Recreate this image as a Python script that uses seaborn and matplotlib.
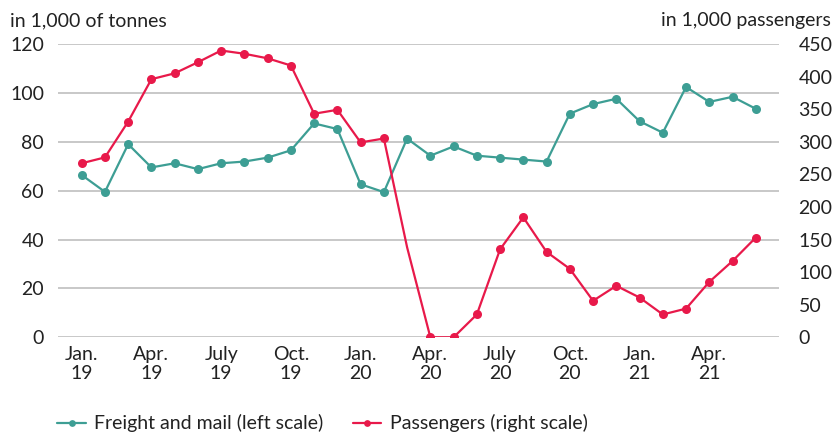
import numpy as np
import pandas as pd
import matplotlib
matplotlib.use("Agg")
import matplotlib.pyplot as plt
import seaborn as sns

months = ["Jan. 19", "Feb. 19", "Mar. 19", "Apr. 19", "May 19", "June 19",
          "July 19", "Aug. 19", "Sep. 19", "Oct. 19", "Nov. 19", "Dec. 19",
          "Jan. 20", "Feb. 20", "Mar. 20", "Apr. 20", "May 20", "June 20",
          "July 20", "Aug. 20", "Sep. 20", "Oct. 20", "Nov. 20", "Dec. 20",
          "Jan. 21", "Feb. 21", "Mar. 21", "Apr. 21", "May 21", "June 21"]

freight = [66.4, 59.5, 79.0, 69.5, 71.2, 68.8, 71.2, 71.9, 73.5, 76.5, 87.5, 85.2,
           62.6, 59.4, 81.3, 74.3, 78.1, 74.3, 73.5, 72.7, 71.9, 91.5, 95.4, 97.6,
           88.4, 83.7, 102.4, 96.3, 98.4, 93.5]

passengers = [267, 276, 331, 396, 405, 422, 440, 435, 428, 417, 343, 349,
              299, 305, 138, 0, 0, 35, 135, 184, 131, 105, 56, 79,
              61, 35, 44, 85, 117, 153]

tick_labels = ["Jan.\n19", "Apr.\n19", "July\n19", "Oct.\n19", "Jan.\n20", "Apr.\n20",
               "July\n20", "Oct.\n20", "Jan.\n21", "Apr.\n21"]

freight_label = "Freight and mail (left scale)"
passenger_label = "Passengers (right scale)"

teal = "#3d9e94"
red = "#e8194a"
grid_grey = "#c4c4c4"
text_color = "#222222"
fs = 14

df = pd.DataFrame({"idx": np.arange(len(months)), "month": months,
                   "freight": freight, "passengers": passengers})

sns.set_theme(style="white")
plt.rcParams["font.family"] = ["Lato", "DejaVu Sans"]
plt.rcParams["text.color"] = text_color

fig = plt.figure(figsize=(8.33, 4.36), dpi=100)
ax = fig.add_axes([0.0696, 0.2264, 0.8656, 0.6727])
ax2 = ax.twinx()

sns.lineplot(data=df, x="idx", y="freight", ax=ax, color=teal, linewidth=1.6,
             marker="o", markersize=6.5, markeredgewidth=0, label=freight_label,
             legend=False, zorder=3)

# no marker is drawn for the March 2020 passenger value
pax_marks = [i for i in range(len(months)) if months[i] != "Mar. 20"]
sns.lineplot(data=df, x="idx", y="passengers", ax=ax2, color=red, linewidth=1.6,
             marker="o", markersize=6.5, markeredgewidth=0, markevery=pax_marks,
             label=passenger_label, legend=False, zorder=3)

ax.set_xlim(-1.02, 30)
ax.set_ylim(0, 120)
ax2.set_ylim(0, 450)
ax.set_yticks(np.arange(0, 121, 20))
ax2.set_yticks(np.arange(0, 451, 50))
ax.set_xticks(np.arange(0, len(months), 3))
ax.set_xticklabels(tick_labels, linespacing=1.2)

ax.grid(axis="y", color=grid_grey, linewidth=1.3)
ax.grid(axis="x", visible=False)
ax2.grid(False)
ax.set_axisbelow(True)
for a in (ax, ax2):
    for s in a.spines.values():
        s.set_visible(False)
    a.set_xlabel("")
    a.set_ylabel("")

ax.tick_params(axis="y", length=0, pad=10, labelsize=fs, labelcolor=text_color)
ax.tick_params(axis="x", length=0, pad=6, labelsize=fs, labelcolor=text_color)
ax2.tick_params(axis="y", length=0, pad=14, labelsize=fs, labelcolor=text_color)

fig.text(0.012, 0.972, "in 1,000 of tonnes", ha="left", va="top", fontsize=fs)
fig.text(0.997, 0.972, "in 1,000 passengers", ha="right", va="top", fontsize=fs)

handles = ax.get_lines()[:1] + ax2.get_lines()[:1]
fig.legend(handles, [freight_label, passenger_label], loc="lower left",
           bbox_to_anchor=(0.048, -0.032), ncol=2, frameon=False, fontsize=fs,
           handlelength=1.45, handletextpad=0.45, columnspacing=1.5, markerscale=0.75)

fig.savefig("out.png", dpi=100)
